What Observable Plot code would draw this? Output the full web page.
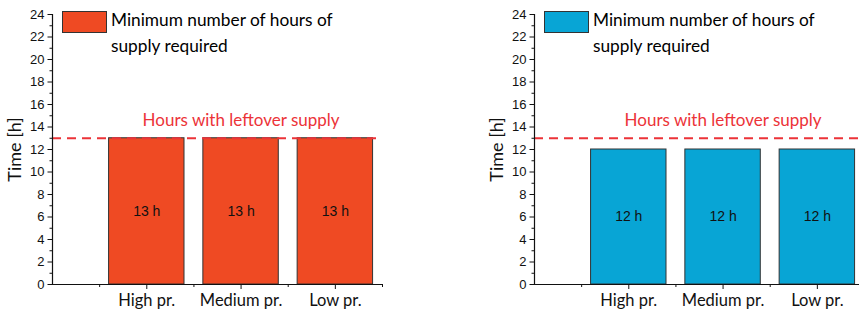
<!DOCTYPE html>
<html>
<head>
<meta charset="utf-8">
<script src="https://cdn.jsdelivr.net/npm/d3@7"></script>
<script src="https://cdn.jsdelivr.net/npm/@observablehq/plot@0.6"></script>
<style>
  html, body { margin: 0; padding: 0; background: #fff; overflow: hidden; }
  #wrap { position: relative; width: 859px; height: 313px; overflow: hidden; }
  .panel { position: absolute; top: 0; width: 430px; height: 313px; }
  .legend { position: absolute; left: 0; top: 0; font-family: Lato, sans-serif; font-size: 17.3px; color: #000; }
  .swatch { position: absolute; left: 62px; top: 11px; width: 45px; height: 22px; box-sizing: border-box; border: 1px solid #333; }
  .ltext { position: absolute; left: 111px; top: 7px; line-height: 26px; white-space: nowrap; }
</style>
</head>
<body>
<div id="wrap"></div>
<script>
// ---- data ----
const categories = ["High pr.", "Medium pr.", "Low pr."];
const hoursLeft = [13, 13, 13];
const hoursRight = [12, 12, 12];
const leftoverHours = 13;
const yTicks = [0, 2, 4, 6, 8, 10, 12, 14, 16, 18, 20, 22, 24];
const yMinorTicks = [1, 3, 5, 7, 9, 11, 13, 15, 17, 19, 21, 23];
const legendLines = ["Minimum number of hours of", "supply required"];
const leftoverLabel = "Hours with leftover supply";
const yTitle = "Time [h]";
const unit = "h";

const panels = [
  {values: hoursLeft, color: "#ef4a23", left: 0},
  {values: hoursRight, color: "#08a5d5", left: 482}
];

const RED = "#ec3338";
const INK = "#111";
const wrap = document.getElementById("wrap");

for (const p of panels) {
  const data = categories.map((c, i) => ({cat: c, pos: i + 1, value: p.values[i]}));
  const chart = Plot.plot({
    width: 430,
    height: 313,
    marginLeft: 52,
    marginRight: 48,
    marginTop: 14,
    marginBottom: 29,
    style: {background: "transparent", overflow: "visible"},
    x: {domain: [0, 3.5], axis: null},
    y: {domain: [0, 24], axis: null},
    marks: [
      Plot.rectY(data, {x1: d => d.pos - 0.4, x2: d => d.pos + 0.4, y1: 0, y2: "value", fill: p.color, stroke: "#333", strokeWidth: 1}),
      Plot.text(data, {x: "pos", y: d => d.value / 2, text: d => `${d.value} ${unit}`, fontFamily: "Liberation Sans, Arial, sans-serif", fontSize: 14, fill: INK}),
      Plot.ruleY([leftoverHours], {stroke: RED, strokeWidth: 2, strokeDasharray: "9,6"}),
      Plot.text([leftoverLabel], {x: 2, y: leftoverHours, dy: -18, text: d => d, fill: RED, fontFamily: "Lato, sans-serif", fontSize: 17}),
      Plot.axisY(yTicks, {tickSize: 4.5, tickPadding: 3.5, fontFamily: "Liberation Sans, Arial, sans-serif", fontSize: 13, fill: INK, stroke: INK, label: null}),
      Plot.axisY(yMinorTicks, {tickSize: 2.5, text: null, stroke: INK, label: null}),
      Plot.axisX([1, 2, 3], {tickSize: 5, tickPadding: 5, tickFormat: v => categories[v - 1], fontFamily: "Lato, sans-serif", fontSize: 16.5, fill: INK, stroke: INK, label: null}),
      Plot.axisX([0.5, 1.5, 2.5, 3.5], {tickSize: 3, text: null, stroke: INK, label: null}),
      Plot.ruleX([0], {stroke: INK, strokeWidth: 1.2}),
      Plot.ruleY([0], {stroke: INK, strokeWidth: 1.2}),
      Plot.text([yTitle], {frameAnchor: "left", dx: -37, rotate: -90, text: d => d, fontFamily: "Lato, sans-serif", fontSize: 18, fill: INK, textAnchor: "middle"})
    ]
  });
  const div = document.createElement("div");
  div.className = "panel";
  div.style.left = p.left + "px";
  div.appendChild(chart);
  const legend = document.createElement("div");
  legend.className = "legend";
  const sw = document.createElement("div");
  sw.className = "swatch";
  sw.style.background = p.color;
  const lt = document.createElement("div");
  lt.className = "ltext";
  lt.innerHTML = legendLines.join("<br>");
  legend.appendChild(sw);
  legend.appendChild(lt);
  div.appendChild(legend);
  wrap.appendChild(div);
}
</script>
</body>
</html>
